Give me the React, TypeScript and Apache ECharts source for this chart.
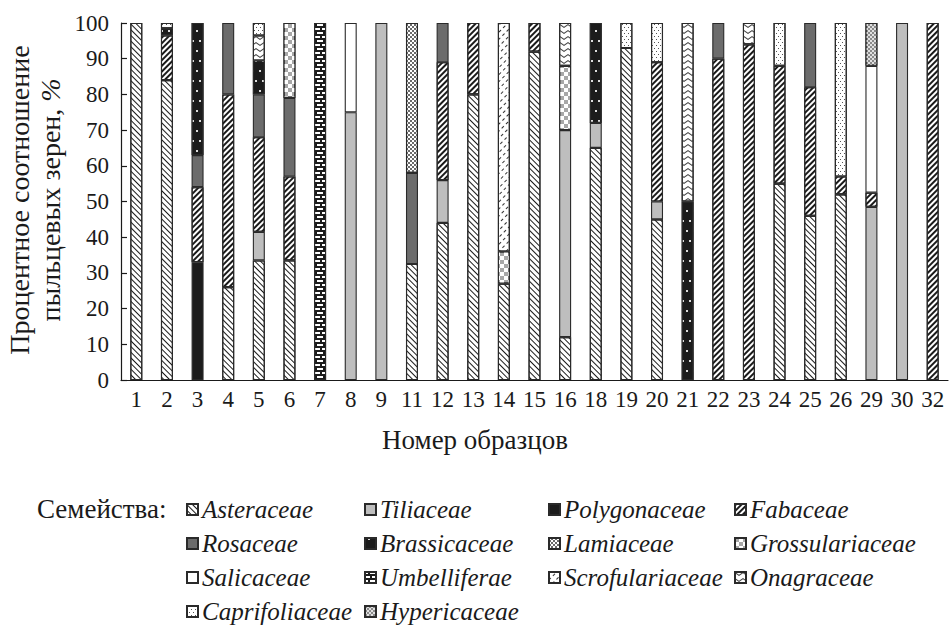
import React, { useEffect, useRef } from "react";
import * as echarts from "echarts";

const samples = ["1","2","3","4","5","6","7","8","9","11","12","13","14","15","16","18","19","20","21","22","23","24","25","26","29","30","32"];

// segment sizes (%) per sample, stacking order bottom -> top
const asteraceae     = [100, 84, 0, 26, 33.5, 33.5, 0, 0, 0, 32.5, 44, 80, 27, 92, 12, 65, 93, 45, 0, 0, 0, 55, 46, 52, 0, 0, 0];
const polygonaceae   = [0, 0, 33, 0, 0, 0, 0, 0, 0, 0, 0, 0, 0, 0, 0, 0, 0, 0, 0, 0, 0, 0, 0, 0, 0, 0, 0];
const tiliaceae      = [0, 0, 0, 0, 8, 0, 0, 75, 100, 0, 12, 0, 0, 0, 58, 7, 0, 5, 0, 0, 0, 0, 0, 0, 48.5, 100, 0];
const fabaceae       = [0, 12.5, 21, 54, 26.5, 23.5, 0, 0, 0, 0, 33, 20, 0, 8, 0, 0, 0, 39, 0, 90, 94, 33, 36, 5, 4, 0, 100];
const rosaceae       = [0, 0, 9, 20, 12, 22, 0, 0, 0, 25.5, 11, 0, 0, 0, 0, 0, 0, 0, 0, 10, 0, 0, 18, 0, 0, 0, 0];
const brassicaceae   = [0, 2, 37, 0, 9.5, 0, 0, 0, 0, 0, 0, 0, 0, 0, 0, 28, 0, 0, 50, 0, 0, 0, 0, 0, 0, 0, 0];
const lamiaceae      = [0, 0, 0, 0, 0, 0, 0, 0, 0, 42, 0, 0, 0, 0, 0, 0, 0, 0, 0, 0, 0, 0, 0, 0, 0, 0, 0];
const grossulariaceae= [0, 0, 0, 0, 0, 21, 0, 0, 0, 0, 0, 0, 9, 0, 18, 0, 0, 0, 0, 0, 0, 0, 0, 0, 0, 0, 0];
const scrofulariaceae= [0, 0, 0, 0, 0, 0, 0, 0, 0, 0, 0, 0, 64, 0, 0, 0, 0, 0, 0, 0, 0, 0, 0, 0, 0, 0, 0];
const onagraceae     = [0, 0, 0, 0, 7, 0, 0, 0, 0, 0, 0, 0, 0, 0, 12, 0, 0, 0, 50, 0, 6, 0, 0, 0, 0, 0, 0];
const caprifoliaceae = [0, 1.5, 0, 0, 3.5, 0, 0, 0, 0, 0, 0, 0, 0, 0, 0, 0, 7, 11, 0, 0, 0, 12, 0, 43, 0, 0, 0];
const salicaceae     = [0, 0, 0, 0, 0, 0, 0, 25, 0, 0, 0, 0, 0, 0, 0, 0, 0, 0, 0, 0, 0, 0, 0, 0, 35.5, 0, 0];
const hypericaceae   = [0, 0, 0, 0, 0, 0, 0, 0, 0, 0, 0, 0, 0, 0, 0, 0, 0, 0, 0, 0, 0, 0, 0, 0, 12, 0, 0];
const umbelliferae   = [0, 0, 0, 0, 0, 0, 100, 0, 0, 0, 0, 0, 0, 0, 0, 0, 0, 0, 0, 0, 0, 0, 0, 0, 0, 0, 0];

const yTicks = [0, 100, 10];

const legendCols = [
  ["Asteraceae", "Rosaceae", "Salicaceae", "Caprifoliaceae"],
  ["Tiliaceae", "Brassicaceae", "Umbelliferae", "Hypericaceae"],
  ["Polygonaceae", "Lamiaceae", "Scrofulariaceae"],
  ["Fabaceae", "Grossulariaceae", "Onagraceae"],
];

const SERIF = "'Liberation Serif', 'DejaVu Serif', serif";

const styles: Record<string, any> = {
  Asteraceae: { color: "#ffffff", decal: { symbol: "rect", color: "#1a1a1a", dashArrayX: [[1, 0]], dashArrayY: [1, 2.2], rotation: Math.PI / 4 } },
  Polygonaceae: { color: "#1c1c1c" },
  Tiliaceae: { color: "#bebebe" },
  Fabaceae: { color: "#ffffff", decal: { symbol: "rect", color: "#1a1a1a", dashArrayX: [[1, 0]], dashArrayY: [1.6, 1.4], rotation: -Math.PI / 4 } },
  Rosaceae: { color: "#6c6c6c" },
  Brassicaceae: { color: "#1c1c1c", decal: { symbol: "rect", color: "#dddddd", dashArrayX: [[1.2, 4.5], [0, 3, 1.2, 1.5]], dashArrayY: [1.2, 8], rotation: 0 } },
  Lamiaceae: { color: "#ffffff", decal: { symbol: "rect", color: "#6a6a6a", dashArrayX: [[2, 2], [0, 2, 2, 0]], dashArrayY: [2, 0], rotation: 0 } },
  Grossulariaceae: { color: "#a8a8a8", decal: { symbol: "rect", color: "#ffffff", dashArrayX: [[4, 4], [0, 4, 4, 0]], dashArrayY: [4, 0], rotation: 0 } },
  Scrofulariaceae: { color: "#ffffff", decal: { symbol: "rect", color: "#333333", dashArrayX: [[2.5, 2.5]], dashArrayY: [0.9, 3.5], rotation: -Math.PI / 4 } },
  Onagraceae: { color: "#ffffff", decal: { symbol: "path://M0,0 L5,4 L10,0 L10,2 L5,6 L0,2 Z", symbolKeepAspect: false, color: "#444444", dashArrayX: [[8, 0]], dashArrayY: [4, 2], rotation: 0 } },
  Caprifoliaceae: { color: "#ffffff", decal: { symbol: "rect", color: "#555555", symbolSize: 1, dashArrayX: [[1, 3], [0, 2, 1, 1]], dashArrayY: [1, 2], rotation: 0 } },
  Salicaceae: { color: "#ffffff" },
  Hypericaceae: { color: "#8a8a8a", decal: { symbol: "rect", color: "#e0e0e0", dashArrayX: [[1.2, 1.2], [0, 1.2, 1.2, 0]], dashArrayY: [1.2, 0], rotation: 0 } },
  Umbelliferae: { color: "#1c1c1c", decal: { symbol: "rect", color: "#ffffff", dashArrayX: [[4.5, 1.2], [2.2, 1.2, 2.3, 0]], dashArrayY: [2, 1.2], rotation: 0 } },
};

const seriesDefs: [string, number[]][] = [
  ["Asteraceae", asteraceae],
  ["Polygonaceae", polygonaceae],
  ["Tiliaceae", tiliaceae],
  ["Fabaceae", fabaceae],
  ["Rosaceae", rosaceae],
  ["Brassicaceae", brassicaceae],
  ["Lamiaceae", lamiaceae],
  ["Grossulariaceae", grossulariaceae],
  ["Scrofulariaceae", scrofulariaceae],
  ["Onagraceae", onagraceae],
  ["Caprifoliaceae", caprifoliaceae],
  ["Salicaceae", salicaceae],
  ["Hypericaceae", hypericaceae],
  ["Umbelliferae", umbelliferae],
];

export default function App() {
  const ref = useRef<HTMLDivElement>(null);
  useEffect(() => {
    if (!ref.current) return;
    const chart = echarts.init(ref.current, null, { renderer: "svg" });
    const legendLefts = [186, 364, 548, 734];
    const option: any = {
      animation: false,
      backgroundColor: "#ffffff",
      grid: { left: 121, right: 2, top: 23, bottom: 246, containLabel: false },
      xAxis: {
        type: "category",
        data: samples,
        axisLine: { show: true, lineStyle: { color: "#1a1a1a", width: 1.2 } },
        axisTick: { show: false },
        axisLabel: { fontFamily: SERIF, fontSize: 23, color: "#1a1a1a", margin: 8 },
      },
      yAxis: {
        type: "value",
        min: yTicks[0],
        max: yTicks[1],
        interval: yTicks[2],
        axisLine: { show: true, lineStyle: { color: "#1a1a1a", width: 1.2 } },
        axisTick: { show: true, inside: true, length: 6, lineStyle: { color: "#1a1a1a", width: 1.2 } },
        splitLine: { show: false },
        axisLabel: { fontFamily: SERIF, fontSize: 23, color: "#1a1a1a", margin: 12 },
      },
      legend: legendCols.map((col, i) => ({
        orient: "vertical",
        left: legendLefts[i],
        top: 497,
        itemWidth: 11,
        itemHeight: 11,
        itemGap: 9,
        icon: "rect",
        padding: 0,
        selectedMode: false,
        data: col,
        textStyle: { fontFamily: SERIF, fontStyle: "italic", fontSize: 25, lineHeight: 24, color: "#1a1a1a", padding: [0, 0, 0, -1] },
      })),
      graphic: [
        {
          type: "text",
          left: 37,
          top: 495,
          style: { text: "Семейства:", font: `27px ${SERIF}`, fill: "#1a1a1a" },
        },
        {
          type: "text",
          x: 475,
          y: 440,
          style: { text: "Номер образцов", font: `27px ${SERIF}`, fill: "#1a1a1a", textAlign: "center", textVerticalAlign: "middle" },
        },
        {
          type: "text",
          x: 35,
          y: 200,
          rotation: Math.PI / 2,
          style: {
            text: "{a|Процентное соотношение}\n{a|пыльцевых зерен, }{b|%}",
            textAlign: "center",
            textVerticalAlign: "middle",
            rich: {
              a: { fontFamily: SERIF, fontSize: 28, lineHeight: 31, fill: "#1a1a1a", color: "#1a1a1a" },
              b: { fontFamily: SERIF, fontSize: 28, lineHeight: 31, fontStyle: "italic", fill: "#1a1a1a", color: "#1a1a1a" },
            },
          },
        },
      ],
      series: seriesDefs.map(([name, vals]) => ({
        name,
        type: "bar",
        stack: "total",
        barWidth: 12,
        data: vals.map((v) => (v > 0 ? v : null)),
        itemStyle: { ...styles[name], borderColor: "#2a2a2a", borderWidth: 1.1 },
        emphasis: { disabled: true },
      })),
    };
    chart.setOption(option);
    return () => chart.dispose();
  }, []);
  return <div ref={ref} style={{ width: 950, height: 626, position: "absolute", left: 0, top: 0 }} />;
}
